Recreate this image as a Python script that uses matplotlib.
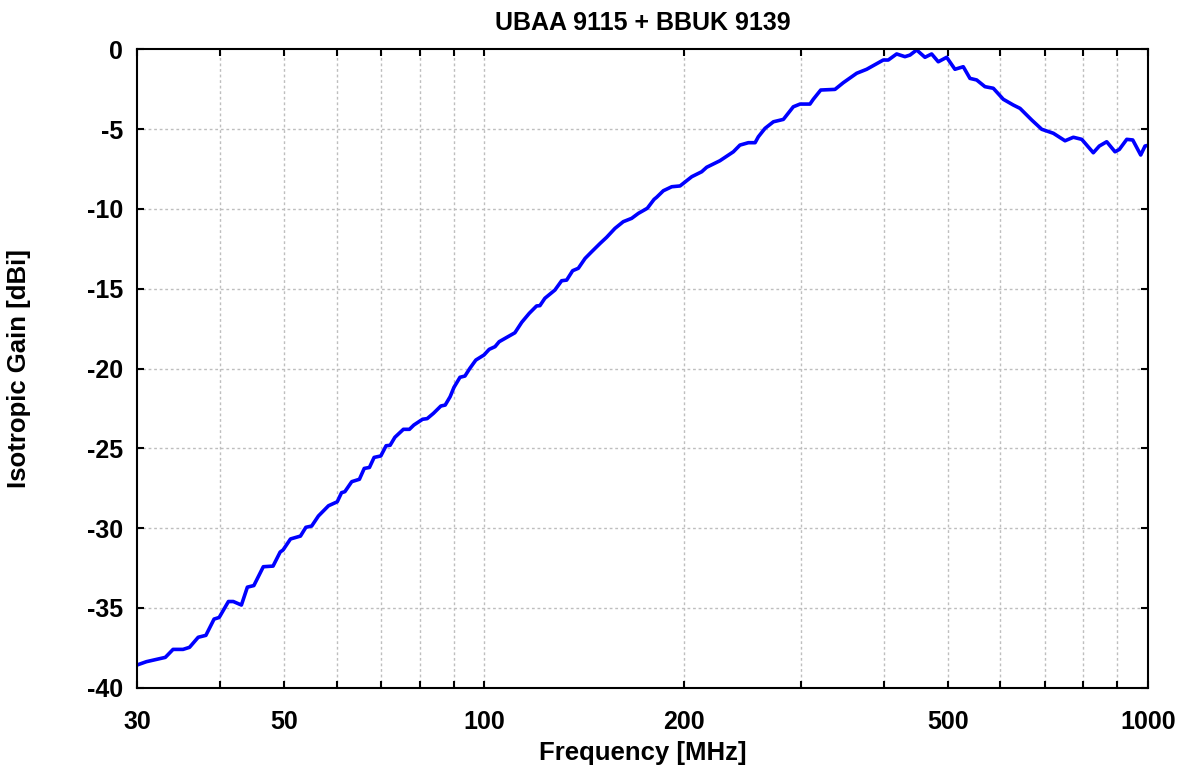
import numpy as np
import matplotlib
matplotlib.use("Agg")
import matplotlib.pyplot as plt
from matplotlib.ticker import FixedLocator, NullFormatter

# Frequency [MHz] and isotropic gain [dBi]
freq = [30.0, 31.0, 33.1, 34.0, 35.2, 36.0, 37.1, 38.1, 39.2, 39.9,
        41.2, 41.9, 43.1, 44.0, 45.0, 46.5, 48.1, 49.3, 49.8, 51.1,
        52.9, 53.9, 55.0, 56.3, 58.3, 60.1, 61.0, 61.7, 63.2, 64.9,
        66.0, 67.2, 68.3, 69.9, 71.2, 72.2, 73.4, 75.6, 77.2, 78.4,
        80.8, 82.1, 83.9, 86.1, 87.4, 88.9, 90.1, 92.0, 93.6, 95.2,
        97.2, 100.0, 101.8, 103.9, 105.4, 108.2, 111.3, 114.0, 117.0, 120.0,
        121.4, 123.5, 127.9, 130.9, 133.2, 136.0, 138.7, 142.0, 145.3, 149.6,
        153.0, 157.5, 162.1, 166.9, 170.8, 176.2, 180.4, 182.0, 186.3, 191.8,
        197.4, 205.6, 212.8, 216.5, 226.7, 237.5, 243.0, 250.2, 256.1, 259.0,
        265.1, 272.9, 282.5, 292.4, 299.3, 309.8, 313.4, 321.6, 337.9, 347.8,
        364.3, 377.2, 392.7, 399.5, 406.5, 418.5, 430.7, 438.3, 448.6, 461.7,
        472.5, 483.5, 497.8, 512.3, 527.3, 539.7, 552.4, 568.5, 585.2, 605.9,
        627.3, 642.1, 668.7, 692.3, 720.8, 750.6, 772.5, 795.4, 827.9, 845.3,
        867.3, 892.7, 906.2, 929.8, 949.3, 975.9, 990.6, 1000.0]
gain = [-38.58, -38.37, -38.10, -37.60, -37.60, -37.47, -36.84, -36.72, -35.70, -35.60,
        -34.60, -34.60, -34.82, -33.70, -33.60, -32.42, -32.38, -31.50, -31.37, -30.68,
        -30.50, -29.95, -29.87, -29.24, -28.60, -28.35, -27.78, -27.72, -27.09, -26.94,
        -26.26, -26.20, -25.57, -25.48, -24.84, -24.81, -24.31, -23.81, -23.81, -23.54,
        -23.18, -23.14, -22.81, -22.35, -22.29, -21.77, -21.18, -20.55, -20.47, -19.99,
        -19.47, -19.15, -18.80, -18.63, -18.32, -18.05, -17.76, -17.10, -16.54, -16.08,
        -16.06, -15.60, -15.08, -14.50, -14.46, -13.87, -13.72, -13.10, -12.68, -12.16,
        -11.78, -11.22, -10.80, -10.59, -10.28, -9.96, -9.40, -9.27, -8.86, -8.61,
        -8.56, -7.98, -7.67, -7.39, -6.98, -6.42, -6.00, -5.85, -5.85, -5.48,
        -4.95, -4.54, -4.39, -3.60, -3.43, -3.43, -3.13, -2.55, -2.51, -2.09,
        -1.50, -1.25, -0.84, -0.67, -0.67, -0.29, -0.46, -0.36, -0.04, -0.50,
        -0.29, -0.78, -0.50, -1.25, -1.09, -1.82, -1.92, -2.34, -2.44, -3.13,
        -3.49, -3.70, -4.43, -5.01, -5.26, -5.73, -5.51, -5.64, -6.48, -6.06,
        -5.79, -6.42, -6.27, -5.64, -5.68, -6.62, -6.06, -6.02]

xticks = [30, 50, 100, 200, 500, 1000]
xgrid = [40, 50, 60, 70, 80, 90, 100, 200, 300, 400, 500, 600, 700, 800, 900]
yticks = [0, -5, -10, -15, -20, -25, -30, -35, -40]

plt.rcParams['font.family'] = ['Liberation Sans', 'DejaVu Sans']
plt.rcParams['font.weight'] = 'bold'

fig = plt.figure(figsize=(11.89, 7.72), dpi=100)
ax = fig.add_axes([0.1152, 0.1092, 0.8501, 0.8269])

ax.plot(freq, gain, color='#0000ff', linewidth=2.6)

ax.set_xscale('log')
ax.set_xlim(30, 1000)
ax.set_ylim(-40, 0)

ax.xaxis.set_major_locator(FixedLocator(xticks))
ax.xaxis.set_minor_locator(FixedLocator(xgrid))
ax.xaxis.set_minor_formatter(NullFormatter())
ax.set_xticklabels([str(t) for t in xticks])
ax.set_yticks(yticks)
ax.set_yticklabels([str(t) for t in yticks])

for v in xgrid:
    ax.axvline(v, color='#bebebe', linestyle=(0, (2, 2)), linewidth=1.0, zorder=0)
for v in yticks[1:-1]:
    ax.axhline(v, color='#bebebe', linestyle=(0, (2, 2)), linewidth=1.0, zorder=0)

ax.tick_params(axis='both', which='both', direction='in', top=True, right=True,
               length=5, width=1.5, labelsize=18)
ax.tick_params(axis='x', which='both', pad=16)
ax.tick_params(axis='y', pad=10)
for s in ax.spines.values():
    s.set_linewidth(1.5)

ax.set_title('UBAA 9115 + BBUK 9139', fontsize=18, fontweight='bold', pad=14)
ax.set_xlabel('Frequency [MHz]', fontsize=18.5, fontweight='bold', labelpad=5)
ax.set_ylabel('Isotropic Gain [dBi]', fontsize=18.5, fontweight='bold', labelpad=40)

fig.savefig('out.png', dpi=100)
